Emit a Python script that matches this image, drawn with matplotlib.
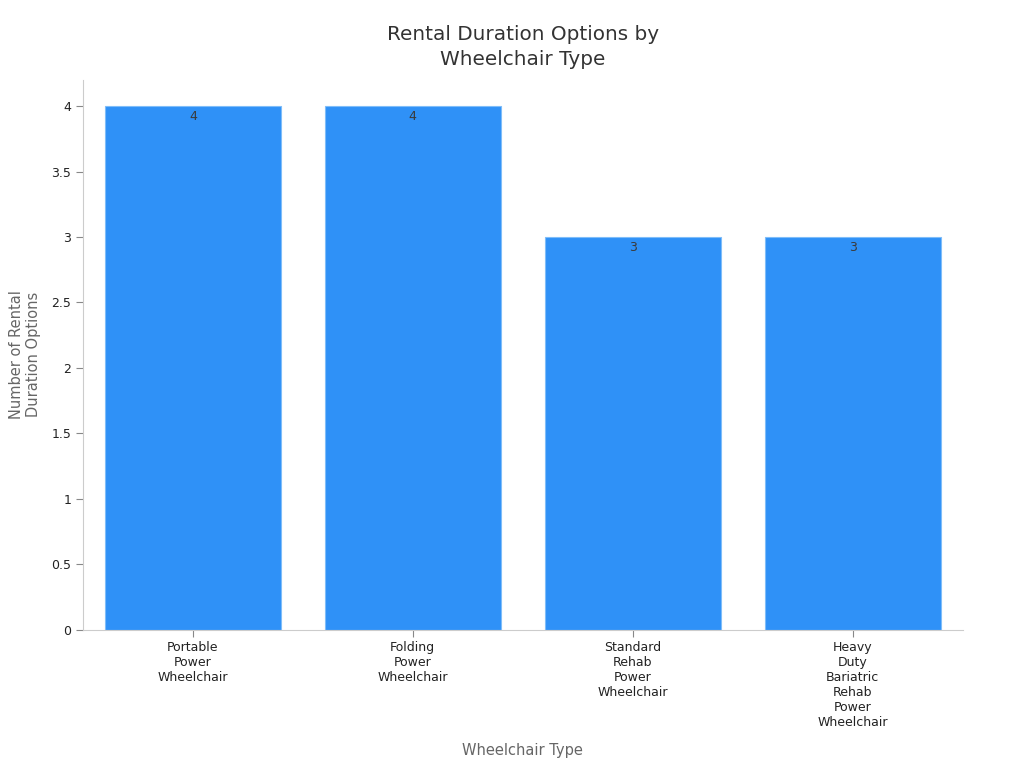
import matplotlib
matplotlib.use("Agg")
import matplotlib.pyplot as plt

types = ["Portable\nPower\nWheelchair", "Folding\nPower\nWheelchair",
         "Standard\nRehab\nPower\nWheelchair",
         "Heavy\nDuty\nBariatric\nRehab\nPower\nWheelchair"]
options = [4, 4, 3, 3]

plt.rcParams['font.family'] = ['DejaVu Sans']

fig = plt.figure(figsize=(10.24, 7.68), dpi=100)
ax = fig.add_axes([0.081, 0.180, 0.859, 0.716])

x = range(len(types))
bars = ax.bar(x, options, width=0.8, color='#2f91f7', edgecolor='#7fbdf9', linewidth=0.8)

for xi, v in zip(x, options):
    ax.text(xi, v - 0.03, str(v), ha='center', va='top', fontsize=9, color='#3a3a3a')

ax.set_xlim(-0.5, 3.5)
ax.set_ylim(0, 4.2)
ax.set_yticks([0, 0.5, 1, 1.5, 2, 2.5, 3, 3.5, 4])
ax.set_yticklabels(["0", "0.5", "1", "1.5", "2", "2.5", "3", "3.5", "4"])
ax.set_xticks(list(x))
ax.set_xticklabels(types, fontsize=9, color='#222222', linespacing=1.2)
ax.tick_params(axis='y', labelsize=9, labelcolor='#222222', color='#888888', length=5)
ax.tick_params(axis='x', color='#888888', length=5, pad=3)

for s in ['top', 'right']:
    ax.spines[s].set_visible(False)
for s in ['left', 'bottom']:
    ax.spines[s].set_color('#cccccc')

ax.set_xlabel("Wheelchair Type", fontsize=10.5, color='#666666', labelpad=10)
ax.set_ylabel("Number of Rental\nDuration Options", fontsize=10.5, color='#666666', labelpad=7)
ax.set_title("Rental Duration Options by\nWheelchair Type", fontsize=14.4, color='#333333',
             pad=11, linespacing=1.35)

fig.savefig("out.png", dpi=100)
